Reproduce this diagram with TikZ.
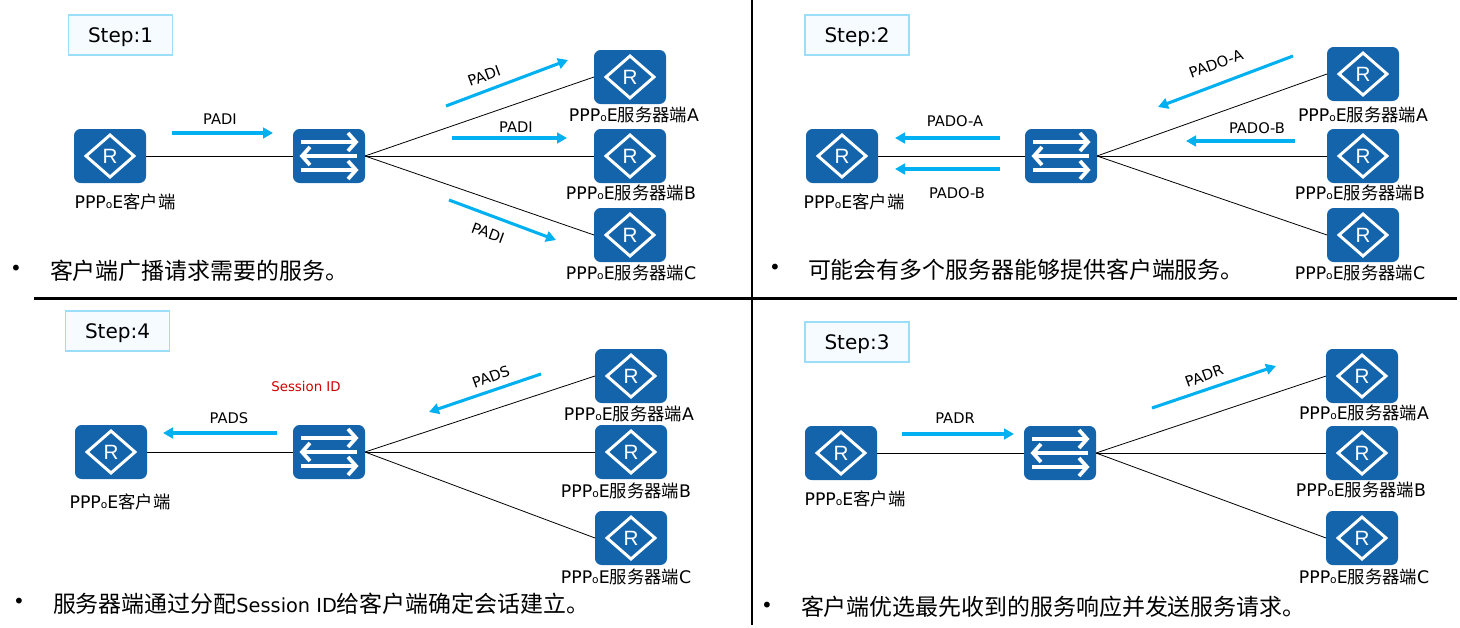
\documentclass[tikz,border=0pt]{standalone}
\usepackage{fontspec}
\usepackage{xcolor}
\usetikzlibrary{arrows.meta,positioning}
\setmainfont{Noto Sans CJK SC}
\newfontfamily\lat{DejaVu Sans}
\newfontfamily\rfont{Liberation Sans}
\definecolor{devblue}{HTML}{1464AC}
\definecolor{msgblue}{HTML}{00B0F0}
\definecolor{stepedge}{HTML}{9ADFF7}
\definecolor{stepfill}{HTML}{F5FBFF}
\definecolor{idred}{HTML}{D00000}
\newcommand{\pppoe}{{\lat PPP{\fontsize{8}{8}\selectfont o}E}}
\begin{document}
\begin{tikzpicture}[x=0.75pt, y=-0.75pt, every node/.style={inner sep=0pt, outer sep=0pt}]
\tikzstyle{router} = [rectangle, rounded corners=5pt, minimum width=54pt, minimum height=40.5pt, fill=devblue, text=white, font=\rfont\fontsize{15.5}{15.5}\selectfont, text depth=0pt,
  path picture={\draw[white, sharp corners, line width=2.2pt]
    ([shift={(-24,0)}]path picture bounding box.center) -- ([shift={(0,-21)}]path picture bounding box.center) -- ([shift={(24,0)}]path picture bounding box.center) -- ([shift={(0,21)}]path picture bounding box.center) -- cycle;}]
\tikzstyle{switchbox} = [rectangle, rounded corners=5pt, minimum width=54pt, minimum height=40.5pt, fill=devblue,
  path picture={\begin{scope}[white, sharp corners, line width=2.8pt, shift={(path picture bounding box.center)}]
    \draw (-28,-14) -- (26,-14); \draw (19,-23) -- (27,-14) -- (19,-5);
    \draw (28,0) -- (-26,0); \draw (-19,-9) -- (-27,0) -- (-19,9);
    \draw (-28,14) -- (26,14); \draw (19,5) -- (27,14) -- (19,23);
  \end{scope}}]
\tikzstyle{stepbox} = [rectangle, minimum width=78pt, minimum height=29.5pt, draw=stepedge, line width=1.3pt, fill=stepfill, text depth=0pt, font=\lat\fontsize{15}{15}\selectfont]
\tikzstyle{devlabel} = [font=\fontsize{13}{13}\selectfont]
\tikzstyle{msg} = [font=\lat\fontsize{11}{11}\selectfont]
\tikzstyle{note} = [anchor=west, font=\fontsize{17.2}{17.2}\selectfont]
\tikzstyle{dot} = [font=\lat\fontsize{15}{15}\selectfont]
\tikzstyle{link} = [line width=0.6pt, black]
\tikzstyle{arrow} = [line width=2.3pt, msgblue, -{Triangle[length=7.5pt, width=8pt]}]
\tikzstyle{divider} = [line width=2.2pt, black]

\useasboundingbox (0,0) rectangle (1460,628);

% dividers
\coordinate (hleft) at (34,298.5);
\coordinate (hright) at (1457,298.5);
\coordinate (vtop) at (752,0);
\coordinate (vbottom) at (752,625);
\draw[divider] (hleft) -- (hright);
\draw[divider] (vtop) -- (vbottom);

% step 1
\node (step1) [stepbox] at (120.5,35) {Step:1};
\node (client1) [router] at (110,156) {R};
\node (switch1) [switchbox] at (329,156) {};
\node (serverA1) [router] at (630,77) {R};
\node (serverB1) [router] at (630,156) {R};
\node (serverC1) [router] at (630,235) {R};
\node (clientlabel1) [devlabel] at (125,202) {\pppoe 客户端};
\node (labelA1) [devlabel] at (634,115) {\pppoe 服务器端{\lat A}};
\node (labelB1) [devlabel] at (631,193) {\pppoe 服务器端{\lat B}};
\node (labelC1) [devlabel] at (631,273) {\pppoe 服务器端{\lat C}};
\draw[link] (client1) -- (switch1);
\draw[link] (switch1.east) -- (serverA1.west);
\draw[link] (switch1.east) -- (serverB1.west);
\draw[link] (switch1.east) -- (serverC1.west);
\coordinate (a1s) at (172,133); \coordinate (a1e) at (273,133);
\coordinate (a2s) at (446,106); \coordinate (a2e) at (568,60);
\coordinate (a3s) at (452,138); \coordinate (a3e) at (567,138);
\coordinate (a4s) at (449,200); \coordinate (a4e) at (556,240);
\draw[arrow] (a1s) -- (a1e);
\draw[arrow] (a2s) -- (a2e);
\draw[arrow] (a3s) -- (a3e);
\draw[arrow] (a4s) -- (a4e);
\node (padi1) [msg] at (220,119) {PADI};
\node (padi2) [msg, rotate=20] at (484,76) {PADI};
\node (padi3) [msg] at (516,127) {PADI};
\node (padi4) [msg, rotate=-20] at (488,233) {PADI};
\node (bullet1) [dot] at (16,270) {•};
\node (note1) [note] at (50,271) {客户端广播请求需要的服务。};

% step 2
\node (step2) [stepbox] at (857,35) {Step:2};
\node (client2) [router] at (842,156) {R};
\node (switch2) [switchbox] at (1061,156) {};
\node (serverA2) [router] at (1363,74) {R};
\node (serverB2) [router] at (1363,156) {R};
\node (serverC2) [router] at (1363,235) {R};
\node (clientlabel2) [devlabel] at (854,202) {\pppoe 客户端};
\node (labelA2) [devlabel] at (1363,115) {\pppoe 服务器端{\lat A}};
\node (labelB2) [devlabel] at (1360,193) {\pppoe 服务器端{\lat B}};
\node (labelC2) [devlabel] at (1360,273) {\pppoe 服务器端{\lat C}};
\draw[link] (client2) -- (switch2);
\draw[link] (switch2.east) -- (serverA2.west);
\draw[link] (switch2.east) -- (serverB2.west);
\draw[link] (switch2.east) -- (serverC2.west);
\coordinate (b1s) at (1000,138); \coordinate (b1e) at (895,138);
\coordinate (b2s) at (1000,169); \coordinate (b2e) at (895,169);
\coordinate (b3s) at (1293,56); \coordinate (b3e) at (1158,107);
\coordinate (b4s) at (1295,141); \coordinate (b4e) at (1186,141);
\draw[arrow] (b1s) -- (b1e);
\draw[arrow] (b2s) -- (b2e);
\draw[arrow] (b3s) -- (b3e);
\draw[arrow] (b4s) -- (b4e);
\node (pado1) [msg] at (955,121) {PADO-A};
\node (pado2) [msg] at (957,193) {PADO-B};
\node (pado3) [msg, rotate=20] at (1216,64) {PADO-A};
\node (pado4) [msg] at (1257,128) {PADO-B};
\node (bullet2) [dot] at (775,269) {•};
\node (note2) [note] at (808,270) {可能会有多个服务器能够提供客户端服务。};

% step 4
\node (step4) [stepbox] at (117.5,331) {Step:4};
\node (client4) [router] at (111,452) {R};
\node (switch4) [switchbox] at (329,452) {};
\node (serverA4) [router] at (631,376) {R};
\node (serverB4) [router] at (631,452) {R};
\node (serverC4) [router] at (631,538) {R};
\node (clientlabel4) [devlabel] at (120,502) {\pppoe 客户端};
\node (labelA4) [devlabel] at (629,414) {\pppoe 服务器端{\lat A}};
\node (labelB4) [devlabel] at (626,491) {\pppoe 服务器端{\lat B}};
\node (labelC4) [devlabel] at (626,577) {\pppoe 服务器端{\lat C}};
\draw[link] (client4) -- (switch4);
\draw[link] (switch4.east) -- (serverA4.west);
\draw[link] (switch4.east) -- (serverB4.west);
\draw[link] (switch4.east) -- (serverC4.west);
\coordinate (c1s) at (277,433); \coordinate (c1e) at (163,433);
\coordinate (c2s) at (541,374); \coordinate (c2e) at (429,412);
\draw[arrow] (c1s) -- (c1e);
\draw[arrow] (c2s) -- (c2e);
\node (pads1) [msg] at (229,418) {PADS};
\node (pads2) [msg, rotate=20] at (491,377) {PADS};
\node (sessionid) [text=idred, font=\lat\fontsize{10}{10}\selectfont] at (306,387) {Session ID};
\node (bullet4) [dot] at (19,603) {•};
\node (note4) [note] at (53,604) {服务器端通过分配{\lat\fontsize{14.5}{14.5}\selectfont Session ID}给客户端确定会话建立。};

% step 3
\node (step3) [stepbox] at (857,342) {Step:3};
\node (client3) [router] at (841,453) {R};
\node (switch3) [switchbox] at (1060,453) {};
\node (serverA3) [router] at (1362,376) {R};
\node (serverB3) [router] at (1362,453) {R};
\node (serverC3) [router] at (1362,538) {R};
\node (clientlabel3) [devlabel] at (855,499) {\pppoe 客户端};
\node (labelA3) [devlabel] at (1364,413) {\pppoe 服务器端{\lat A}};
\node (labelB3) [devlabel] at (1361,490) {\pppoe 服务器端{\lat B}};
\node (labelC3) [devlabel] at (1364,577) {\pppoe 服务器端{\lat C}};
\draw[link] (client3) -- (switch3);
\draw[link] (switch3.east) -- (serverA3.west);
\draw[link] (switch3.east) -- (serverB3.west);
\draw[link] (switch3.east) -- (serverC3.west);
\coordinate (d1s) at (902,434); \coordinate (d1e) at (1014,434);
\coordinate (d2s) at (1152,408); \coordinate (d2e) at (1276,366);
\draw[arrow] (d1s) -- (d1e);
\draw[arrow] (d2s) -- (d2e);
\node (padr1) [msg] at (955,418) {PADR};
\node (padr2) [msg, rotate=20] at (1204,376) {PADR};
\node (bullet3) [dot] at (767,607) {•};
\node (note3) [note] at (801,607) {客户端优选最先收到的服务响应并发送服务请求。};
\end{tikzpicture}
\end{document}
